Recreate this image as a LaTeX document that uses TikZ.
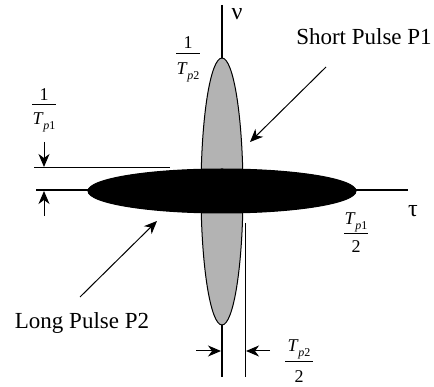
\documentclass[tikz,border=0pt]{standalone}
\usepackage{fontspec}
\setmainfont{Liberation Serif}
\usetikzlibrary{shapes.geometric,arrows.meta}
\definecolor{pulsegray}{RGB}{179,179,179}
\newcommand{\Tsub}[1]{\textit{T}\kern-0.5pt\raisebox{-4.5pt}{\fontsize{12}{12}\selectfont\textit{p}#1}}
\begin{document}
\begin{tikzpicture}[x=1pt,y=-1pt,
  axis/.style={line width=1.7pt},
  thin/.style={line width=1pt},
  arr/.style={line width=1pt,-{Stealth[length=13pt,width=11pt,inset=4pt]}},
  big/.style={font=\fontsize{23}{27}\selectfont,inner sep=0pt,anchor=base},
  greek/.style={font=\fontsize{24}{27}\selectfont,inner sep=0pt,anchor=base},
  fr/.style={font=\fontsize{18}{20}\selectfont,inner sep=0pt,anchor=base},
  bar/.style={line width=1pt}]
\useasboundingbox (0,0) rectangle (434,387);
% axes
\coordinate (vt) at (222,5);
\coordinate (vb) at (222,377);
\coordinate (hl) at (36,190);
\coordinate (hr) at (408,190);
\draw[axis] (vt) -- (vb);
\draw[axis] (hl) -- (hr);
% ellipses
\node[ellipse,draw,line width=1pt,fill=pulsegray,minimum width=42pt,minimum height=267pt,inner sep=0pt] (P1) at (222,191.5) {};
\node[ellipse,draw,line width=1pt,fill=black,minimum width=268pt,minimum height=44pt,inner sep=0pt] (P2) at (222,191) {};
% labels
\node[greek] (nu) at (237,20) {ν};
\node[greek] (tau) at (413,217) {τ};
\node[big] (sp) at (364,45) {Short Pulse P1};
\node[big] (lp) at (82,329) {Long Pulse P2};
% 1/Tp2
\node[fr] (n2) at (188,49) {1};
\node[fr] (d2) at (188,75) {\Tsub{2}};
\coordinate (b2l) at (176,54); \coordinate (b2r) at (200,54);
\draw[bar] (b2l) -- (b2r);
% 1/Tp1
\node[fr] (n1) at (44,101) {1};
\node[fr] (d1) at (44,125) {\Tsub{1}};
\coordinate (b1l) at (32,105); \coordinate (b1r) at (56,105);
\draw[bar] (b1l) -- (b1r);
% Tp1/2
\node[fr] (n3) at (356,225) {\Tsub{1}};
\node[fr] (d3) at (356,253) {2};
\coordinate (b3l) at (344,234); \coordinate (b3r) at (368,234);
\draw[bar] (b3l) -- (b3r);
% Tp2/2
\node[fr] (n4) at (299,352) {\Tsub{2}};
\node[fr] (d4) at (299,383) {2};
\coordinate (b4l) at (285,362); \coordinate (b4r) at (313,362);
\draw[bar] (b4l) -- (b4r);
% dimension lines
\coordinate (ul) at (34,168); \coordinate (ur) at (170,168);
\draw[thin] (ul) -- (ur);
\coordinate (da) at (44,142); \coordinate (db) at (44,167);
\draw[arr] (da) -- (db);
\coordinate (ua) at (44,216); \coordinate (ub) at (44,191);
\draw[arr] (ua) -- (ub);
\coordinate (rt) at (245,223); \coordinate (rb) at (245,377);
\draw[thin] (rt) -- (rb);
\coordinate (la) at (196,351); \coordinate (lb) at (221,351);
\draw[arr] (la) -- (lb);
\coordinate (ra) at (270,351); \coordinate (rbb) at (246,351);
\draw[arr] (ra) -- (rbb);
% pointer arrows
\coordinate (s1) at (326,67); \coordinate (s2) at (250,142);
\draw[arr] (s1) -- (s2);
\coordinate (l1) at (80,297); \coordinate (l2) at (157,221);
\draw[arr] (l1) -- (l2);
\end{tikzpicture}
\end{document}
